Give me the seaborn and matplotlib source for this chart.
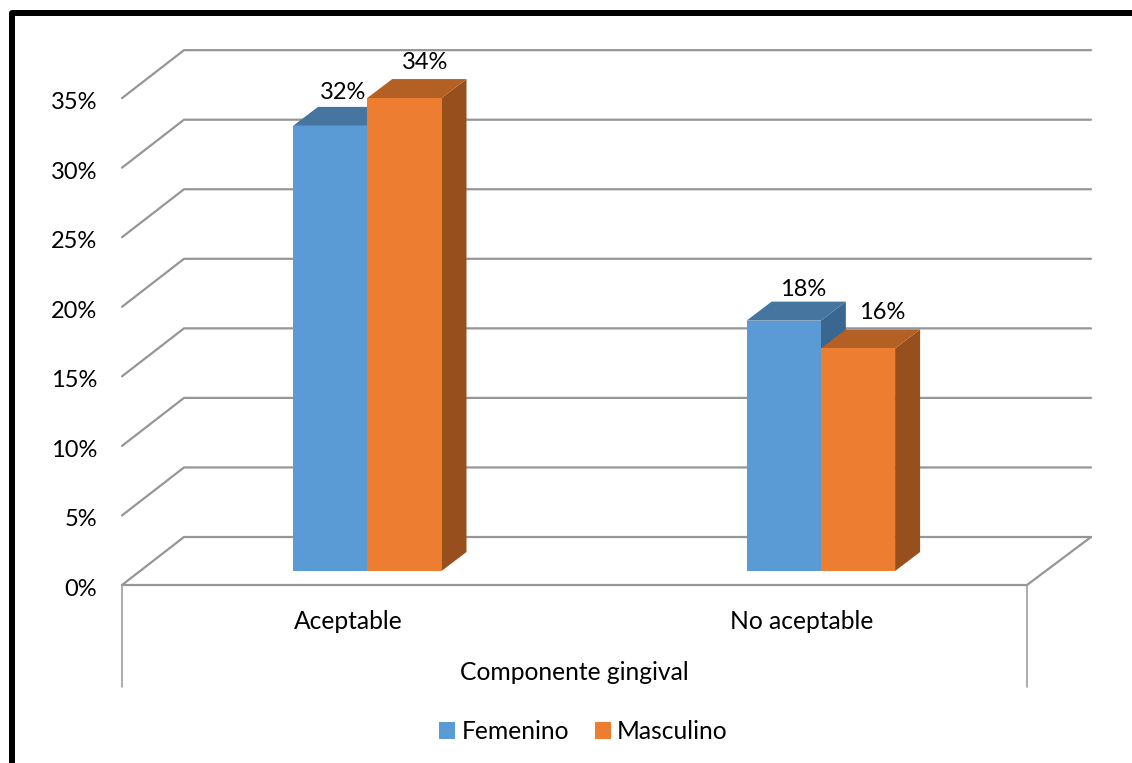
import matplotlib
matplotlib.use("Agg")
import matplotlib.pyplot as plt
from matplotlib.lines import Line2D
from matplotlib.patches import Polygon, Patch
import pandas as pd
import seaborn as sns

categories = ["Aceptable", "No aceptable"]
femenino = [32, 18]
masculino = [34, 16]
series_names = ["Femenino", "Masculino"]
y_ticks = [0, 5, 10, 15, 20, 25, 30, 35]
x_title = "Componente gingival"

W, H = 1132, 763
BAR_BASE_PX = 571.0
PX_PER_PCT = 13.91
CAT_STEP_PX = 453.6
LEFT_PX = 140.45
Y_MIN = -2.0

FRONT_COLORS = {"Femenino": "#5B9BD5", "Masculino": "#ED7D31"}
TOP_COLORS = {"Femenino": "#4675A0", "Masculino": "#B45F24"}
SIDE_COLORS = {"Femenino": "#39678F", "Masculino": "#964F1D"}
GRID = "#969696"
FONT = "Lato"
FS_NUM = 17.0
FS_TXT = 17.7

sns.set_theme(style="white")
plt.rcParams["font.family"] = [FONT, "DejaVu Sans"]

fig = plt.figure(figsize=(W / 100, H / 100), dpi=100, facecolor="white")
ax_w = 2 * CAT_STEP_PX
ax_h = (35 - Y_MIN) * PX_PER_PCT
ax = fig.add_axes([LEFT_PX / W, (H - BAR_BASE_PX + Y_MIN * PX_PER_PCT * -1 * -1) / H, ax_w / W, ax_h / H])
ax.patch.set_alpha(0)


def x_of(px):
    """Horizontal pixel to category-axis position."""
    return (px - LEFT_PX) / CAT_STEP_PX - 0.5


def y_of(px):
    """Vertical pixel (from the top) to percent-axis position."""
    return (BAR_BASE_PX - px) / PX_PER_PCT


df = pd.DataFrame({
    "categoria": categories * 2,
    "sexo": [series_names[0]] * 2 + [series_names[1]] * 2,
    "valor": femenino + masculino,
})

sns.barplot(data=df, x="categoria", y="valor", hue="sexo", palette=FRONT_COLORS,
            width=148.5 / CAT_STEP_PX, gap=0, saturation=1, legend=False,
            linewidth=0, ax=ax, zorder=6)
ax.set_xlim(-0.5, 1.5)
ax.set_ylim(Y_MIN, 35)
ax.set_xlabel("")
ax.set_ylabel("")
ax.set_xticks([])
ax.set_yticks([])
sns.despine(ax=ax, left=True, bottom=True)

# Wall and floor lines of the box behind the bars
back_l, back_r = x_of(184), x_of(1091)
front_l, front_r = x_of(122), x_of(1027)
front_shift = y_of(585)
back_shift = y_of(537)
line_style = dict(color=GRID, lw=1.6, clip_on=False, zorder=1, solid_capstyle="round")
for tick in y_ticks:
    ax.add_line(Line2D([front_l, back_l, back_r],
                       [tick + front_shift, tick + back_shift, tick + back_shift], **line_style))
ax.add_line(Line2D([front_l, front_r, back_r],
                   [front_shift, front_shift, back_shift], **line_style))
for x_edge in (front_l, front_r):
    ax.add_line(Line2D([x_edge, x_edge], [front_shift, y_of(687)],
                       color=GRID, lw=1.1, clip_on=False, zorder=1))

# Extruded top and side faces for each column
depth_x = 25 / CAT_STEP_PX
depth_y = 19 / PX_PER_PCT
names = [series_names[0]] * 2 + [series_names[1]] * 2
for order, (bar, name) in enumerate(zip(ax.patches, names)):
    x0, x1 = bar.get_x(), bar.get_x() + bar.get_width()
    top = bar.get_height()
    z = 2 + order // 2
    ax.add_patch(Polygon([(x1, 0), (x1 + depth_x, depth_y), (x1 + depth_x, top + depth_y), (x1, top)],
                         closed=True, fc=SIDE_COLORS[name], ec="none", clip_on=False, zorder=z))
    ax.add_patch(Polygon([(x0, top), (x0 + depth_x, top + depth_y), (x1 + depth_x, top + depth_y), (x1, top)],
                         closed=True, fc=TOP_COLORS[name], ec="none", clip_on=False, zorder=z))

# Value labels, raised above the extruded tops
label_offsets = [(13, 33), (19, 31), (21, 36), (24, 36)]
for bar, (ox, oy) in zip(list(ax.patches)[:4], label_offsets):
    ax.annotate(f"{bar.get_height():.0f}%",
                (bar.get_x() + bar.get_width() / 2, bar.get_height()),
                xytext=(ox, oy), textcoords="offset pixels",
                ha="center", va="center", fontsize=FS_NUM, color="black",
                annotation_clip=False, zorder=8)

# Percent ticks sit just below the front edge of the left wall
label_shift = y_of(587.5)
y_axis = ax.secondary_yaxis((97 - LEFT_PX) / ax_w,
                            functions=(lambda v: v - label_shift, lambda v: v + label_shift))
y_axis.set_yticks(y_ticks, [f"{t}%" for t in y_ticks])
y_axis.tick_params(length=0, pad=0, labelsize=FS_NUM, labelcolor="black")
y_axis.spines["left"].set_visible(False)

# Category labels are centred on the front floor edge
shift_x = x_of(348.5)
x_axis = ax.secondary_xaxis((y_of(610) - Y_MIN) / (35 - Y_MIN),
                            functions=(lambda v: v - shift_x, lambda v: v + shift_x))
x_axis.set_xticks([0, 1], categories)
x_axis.tick_params(length=0, pad=0, labelsize=FS_TXT, labelcolor="black")
x_axis.spines["bottom"].set_visible(False)

fig.text(574.5 / W, 1 - 672 / H, x_title, ha="center", va="center",
         fontsize=FS_TXT, color="black")

handles = [Patch(fc=FRONT_COLORS[n], ec="none", label=n) for n in series_names]
fig.legend(handles=handles, loc="center", bbox_to_anchor=(583.5 / W, 1 - 731.5 / H),
           ncol=2, frameon=False, fontsize=FS_TXT, handlelength=0.65, handleheight=0.65,
           handletextpad=0.25, columnspacing=1.05, labelcolor="black")

# Heavy black frame along the top and left edges
fig.add_artist(Line2D([12 / W, 12 / W, 1], [0, 1 - 13 / H, 1 - 13 / H], color="black",
                      lw=4.3, transform=fig.transFigure, solid_joinstyle="round"))

fig.savefig("out.png", dpi=100, facecolor="white")
